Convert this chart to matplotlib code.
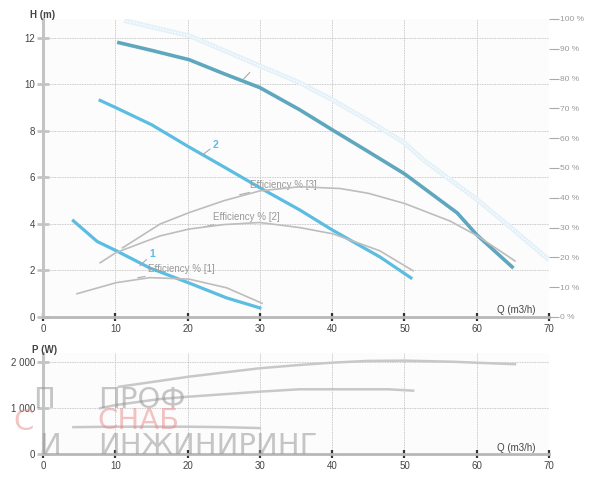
from matplotlib import pyplot as plt
import matplotlib
matplotlib.use('Agg')

plt.rcParams['font.family'] = ['Liberation Sans', 'DejaVu Sans']

# pump curves H(Q), m
Q_MAX = [11.2, 20.2, 35.5, 40.0, 44.8, 50.0, 52.6, 60.1, 64.6, 70.0]
H_MAX = [12.73, 12.08, 10.06, 9.33, 8.47, 7.48, 6.75, 5.03, 3.87, 2.45]
Q3 = [10.5, 15.0, 20.2, 25.0, 30.0, 35.5, 40.0, 45.0, 50.0, 57.3, 60.0, 64.9]
H3 = [11.78, 11.45, 11.05, 10.45, 9.85, 8.9, 8.04, 7.1, 6.15, 4.47, 3.53, 2.15]
Q2 = [7.9, 10.0, 15.0, 20.2, 25.0, 30.0, 35.5, 40.0, 46.6, 50.9]
H2 = [9.3, 9.0, 8.26, 7.3, 6.45, 5.55, 4.6, 3.74, 2.58, 1.68]
Q1 = [4.2, 7.5, 10.1, 14.8, 20.2, 25.4, 30.0]
H1 = [4.13, 3.24, 2.85, 2.1, 1.46, 0.82, 0.39]

# efficiency curves, %
QE3 = [11.0, 16.2, 20.2, 25.0, 30.0, 35.5, 41.1, 45.0, 50.0, 56.3, 60.1, 65.3]
E3 = [23.2, 31.2, 35.0, 39.0, 42.3, 43.7, 43.1, 41.5, 38.1, 32.2, 27.2, 18.8]
QE2 = [7.9, 10.1, 16.2, 20.2, 25.0, 30.0, 35.5, 40.1, 46.6, 51.2]
E2 = [18.2, 21.6, 27.2, 29.5, 31.0, 31.7, 30.0, 27.9, 22.2, 15.5]
QE1 = [4.7, 10.1, 14.8, 20.2, 25.4, 30.3]
E1 = [7.8, 11.5, 13.2, 12.7, 9.8, 4.6]

# power curves, W
QP3 = [10.5, 20.2, 30.0, 35.5, 40.0, 44.8, 50.0, 56.3, 65.3]
P3 = [1467, 1687, 1870, 1941, 1991, 2028, 2035, 2013, 1957]
QP2 = [7.9, 10.1, 16.2, 20.2, 30.0, 35.5, 47.7, 51.2]
P2 = [1000, 1072, 1202, 1252, 1361, 1413, 1413, 1383]
QP1 = [4.2, 10.0, 20.0, 25.0, 30.0]
P1 = [590, 600, 600, 590, 570]

X_TICKS = [0, 10, 20, 30, 40, 50, 60, 70]
H_TICKS = [0, 2, 4, 6, 8, 10, 12]
E_TICKS = [0, 10, 20, 30, 40, 50, 60, 70, 80, 90, 100]
P_TICKS = [0, 1000, 2000]
P_LABELS = ['0', '1 000', '2 000']

DARK = '#5ea7bf'
BLUE = '#5bbde2'
PALE = '#e4f1f9'
GREY = '#bdbdbd'
TXT = '#444444'


def style_axes(ax, ymax):
    ax.set_facecolor('#fcfcfc')
    ax.set_xlim(0, 70)
    ax.set_ylim(0, ymax)
    for s in ['top', 'right']:
        ax.spines[s].set_visible(False)
    ax.spines['left'].set_color('#c4c4c4')
    ax.spines['left'].set_linewidth(2.2)
    ax.spines['bottom'].set_color('#b8b8b8')
    ax.spines['bottom'].set_linewidth(2.0)
    ax.set_xticks(X_TICKS)
    ax.tick_params(axis='x', direction='inout', length=6, width=1.6, color='#333333',
                   labelsize=7, labelcolor=TXT, pad=2)
    ax.tick_params(axis='y', direction='inout', length=9, width=2, color='#c4c4c4',
                   labelsize=7, labelcolor=TXT, pad=1)
    ax.grid(True, linestyle=(0, (1, 1)), color='#b8b8b8', linewidth=0.6)
    ax.set_axisbelow(True)


fig = plt.figure(figsize=(6, 4.8), dpi=100)

# --- head chart
ax = fig.add_axes([0.0717, 0.3396, 0.8433, 0.621])
style_axes(ax, 12.8)
ax.set_yticks(H_TICKS)

ax.plot(Q_MAX, H_MAX, color=PALE, lw=3.4, solid_capstyle='butt')
ax.plot(Q_MAX, H_MAX, color='white', lw=1.0, linestyle=(0, (1, 1.2)))
ax.plot(Q3, H3, color=DARK, lw=2.6)
ax.plot(Q2, H2, color=BLUE, lw=2.3)
ax.plot(Q1, H1, color=BLUE, lw=2.3)

ax2 = ax.twinx()
ax2.set_ylim(0, 100)
ax2.set_yticks(E_TICKS)
ax2.set_yticklabels([f'{v} %' for v in E_TICKS])
for s in ax2.spines.values():
    s.set_visible(False)
ax2.tick_params(axis='y', direction='out', length=7, width=0.8, color='#aaaaaa',
                labelsize=6, labelcolor='#9a9a9a', pad=1)
ax2.plot(QE3, E3, color=GREY, lw=1.2)
ax2.plot(QE2, E2, color=GREY, lw=1.2)
ax2.plot(QE1, E1, color=GREY, lw=1.2)

lead = dict(arrowstyle='-', color='#aaaaaa', lw=0.8, shrinkA=0, shrinkB=0)
ax.annotate('Efficiency % [3]', xy=(27.2, 5.25), xytext=(28.6, 5.68), fontsize=7,
            color='#999999', va='center', arrowprops=lead)
ax.annotate('Efficiency % [2]', xy=(22.3, 3.87), xytext=(23.5, 4.3), fontsize=7,
            color='#999999', va='center', arrowprops=lead)
ax.annotate('Efficiency % [1]', xy=(13.1, 1.68), xytext=(14.5, 2.06), fontsize=7,
            color='#999999', va='center', arrowprops=lead)
ax.annotate('1', xy=(13.4, 2.2), xytext=(14.7, 2.7), fontsize=7.5, fontweight='bold',
            color=BLUE, va='center', arrowprops=lead)
ax.annotate('2', xy=(22.1, 6.97), xytext=(23.5, 7.4), fontsize=7.5, fontweight='bold',
            color=BLUE, va='center', arrowprops=lead)
ax.annotate('', xy=(27.7, 10.2), xytext=(28.6, 10.5), arrowprops=lead)

ax.text(-1.8, 12.95, 'H (m)', fontsize=7, color=TXT, fontweight='bold', va='center')
ax.text(65.5, 0.1, 'Q (m3/h)', fontsize=7, color=TXT, ha='center', va='bottom')

# --- power chart
axp = fig.add_axes([0.0717, 0.0535, 0.8433, 0.211])
style_axes(axp, 2200)
axp.set_yticks(P_TICKS)
axp.set_yticklabels(P_LABELS)
axp.plot(QP3, P3, color='#c8c8c8', lw=1.8)
axp.plot(QP2, P2, color='#c8c8c8', lw=1.8)
axp.plot(QP1, P1, color='#c8c8c8', lw=1.8)
axp.text(-1.5, 2270, 'P (W)', fontsize=7, color=TXT, fontweight='bold', va='center')
axp.text(65.5, 20, 'Q (m3/h)', fontsize=7, color=TXT, ha='center', va='bottom')

# watermark
wm = dict(fontsize=21, family='DejaVu Sans', alpha=0.5, ha='left', va='center')
fig.text(0.055, 0.167, 'П', color='#8f8f8f', **wm)
fig.text(0.022, 0.12, 'С', color='#e98a8a', **wm)
fig.text(0.065, 0.07, 'И', color='#8f8f8f', **wm)
fig.text(0.163, 0.167, 'ПРОФ', color='#8f8f8f', **wm)
fig.text(0.163, 0.123, 'СНАБ', color='#e98a8a', **wm)
fig.text(0.163, 0.071, 'ИНЖИНИРИНГ', color='#8f8f8f', **wm)

plt.savefig('out.png', dpi=100)
